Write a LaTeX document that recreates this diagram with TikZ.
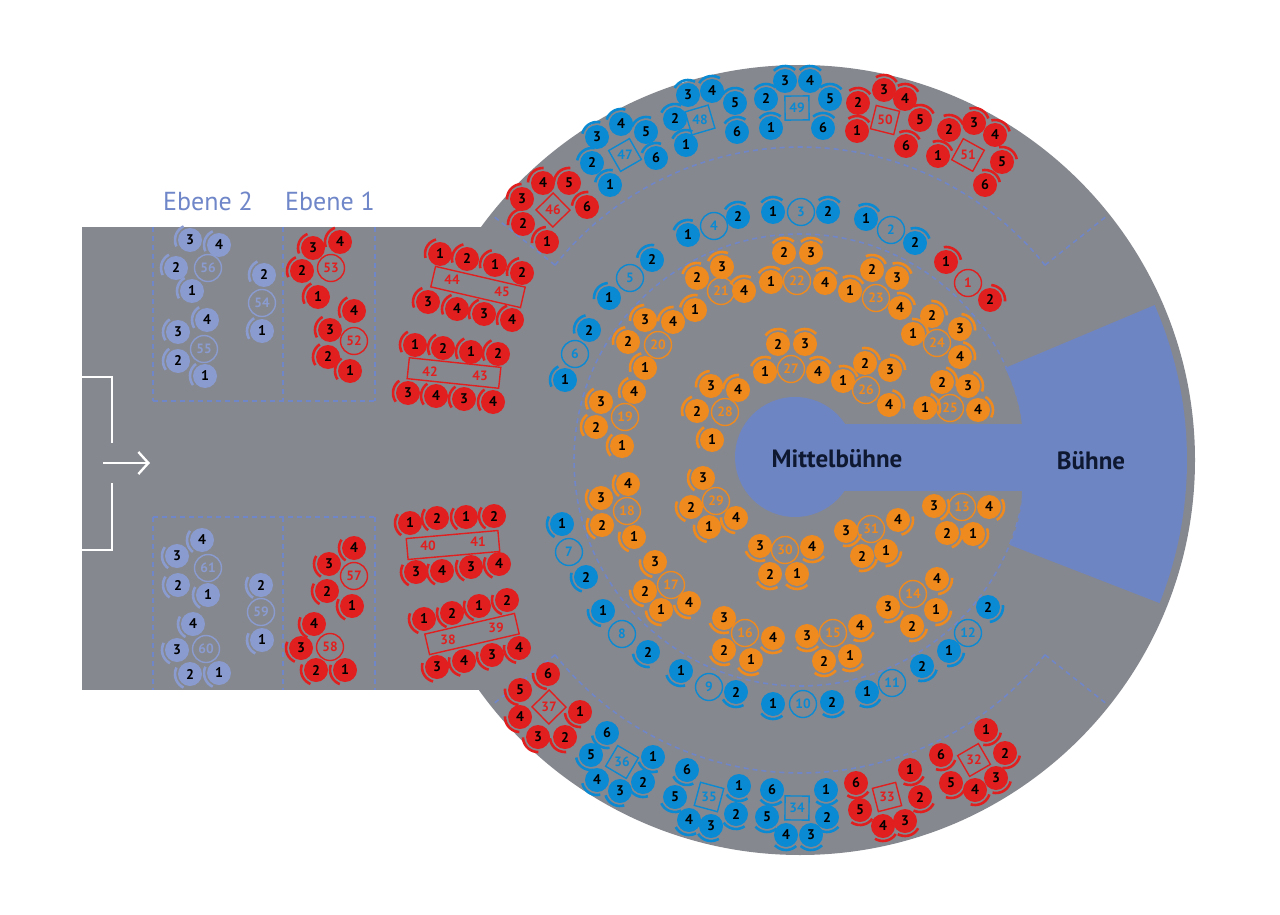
\documentclass[tikz,border=0pt]{standalone}
\usepackage{fontspec}
\setmainfont{PT Sans}
\usetikzlibrary{arrows.meta}
\definecolor{bg}{HTML}{86888F}
\definecolor{cb}{HTML}{0A8AD2}
\definecolor{cr}{HTML}{E21F1F}
\definecolor{co}{HTML}{EF8A1E}
\definecolor{cl}{HTML}{8A9BD0}
\definecolor{stage}{HTML}{6E85C3}
\definecolor{dashc}{HTML}{6F86C8}
\definecolor{ink}{HTML}{0E1830}
\tikzset{
 seatnum/.style={font=\bfseries\fontsize{14}{14}\selectfont,text=black,inner sep=0},
 tabnum/.style={font=\bfseries\fontsize{13.5}{13.5}\selectfont,inner sep=0},
 dl/.style={draw=dashc,line width=1.6,dash pattern=on 5pt off 4pt},
}
\newcommand\st[4]{%
 \pgfmathsetmacro\ang{atan2(#2-460,#1-800)}%
 \draw[#4,line width=2.6] plot[domain=\ang-45:\ang+45,samples=10,smooth] ({#1+15*cos(\x)},{#2+15*sin(\x)});
 \fill[#4] (#1,#2) circle (12);
 \node[seatnum] at (#1,#2) {#3};}
\newcommand\tb[4]{\draw[#4,line width=1.4] (#1,#2) circle (13.5);
 \node[tabnum,text=#4] at (#1,#2) {#3};}
\newcommand\sq[4]{\pgfmathsetmacro\ang{atan2(#2-460,#1-800)}%
 \node[draw=#4,line width=1.4,minimum size=24,rotate=-\ang,inner sep=0] at (#1,#2) {};
 \node[tabnum,text=#4] at (#1,#2) {#3};}
\begin{document}
\begin{tikzpicture}[x=1pt,y=-1pt]
\useasboundingbox (0,0) rectangle (1280,915);
\fill[white] (0,0) rectangle (1280,915);
% floor
\fill[bg] (800,460) circle (395);
\fill[bg] (82,227) rectangle (520,690);
% dashed lines
\draw[dl] (800,460) circle (226);
\draw[dl] plot[domain=-141.5:-38.5,samples=60] ({800+313*cos(\x)},{460+313*sin(\x)});
\draw[dl] plot[domain=38.5:141.5,samples=60] ({800+313*cos(\x)},{460+313*sin(\x)});
\foreach \a in {-141.5,-38.5,38.5,141.5}
  \draw[dl] ({800+313*cos(\a)},{460+313*sin(\a)}) -- ({800+392*cos(\a)},{460+392*sin(\a)});
\foreach \xx in {153,283,375} {\draw[dl] (\xx,227) -- (\xx,401); \draw[dl] (\xx,517) -- (\xx,690);}
\draw[dl] (153,401) -- (375,401); \draw[dl] (153,517) -- (375,517);
% stage
\fill[stage] (1005,368) -- plot[domain=-23.6:21.7,samples=40] ({800+387*cos(\x)},{460+387*sin(\x)}) -- (1010,545) .. controls (1018,525) and (1022,510) .. (1022,492) -- (1022,425) .. controls (1020,405) and (1014,385) .. (1005,368) -- cycle;
\fill[stage] (795,457) circle (60);
\fill[stage] (795,424) rectangle (1022,491);
\node[font=\bfseries\fontsize{25}{25}\selectfont,text=ink] (mb) at (837,459) {Mittelbühne};
\node[font=\bfseries\fontsize{25}{25}\selectfont,text=ink] (bu) at (1091,461) {Bühne};
% door
\draw[white,line width=2] (82,377) -- (112,377) -- (112,443);
\draw[white,line width=2] (112,483) -- (112,550) -- (82,550);
\coordinate (a1) at (103,463); \coordinate (a2) at (150,463);
\draw[white,line width=2.4,-{Straight Barb[length=10pt,width=22pt]}] (a1) -- (a2);
\node[font=\fontsize{26}{26}\selectfont,text=dashc] (e2) at (208,201) {Ebene 2};
\node[font=\fontsize{26}{26}\selectfont,text=dashc] (e1) at (330,201) {Ebene 1};
% outer top
\sq{625}{155}{47}{cb} \st{597}{137}{3}{cb}\st{621}{124}{4}{cb}\st{646}{132}{5}{cb}\st{656}{158}{6}{cb}\st{610}{185}{1}{cb}\st{592}{163}{2}{cb}
\sq{700}{120}{48}{cb} \st{688}{95}{3}{cb}\st{712}{91}{4}{cb}\st{735}{103}{5}{cb}\st{737}{132}{6}{cb}\st{686}{145}{1}{cb}\st{675}{119}{2}{cb}
\sq{797}{108}{49}{cb} \st{785}{81}{3}{cb}\st{810}{81}{4}{cb}\st{830}{99}{5}{cb}\st{823}{128}{6}{cb}\st{771}{128}{1}{cb}\st{766}{99}{2}{cb}
\sq{885}{120}{50}{cr} \st{858}{103}{2}{cr}\st{884}{90}{3}{cr}\st{905}{99}{4}{cr}\st{920}{120}{5}{cr}\st{906}{146}{6}{cr}\st{857}{131}{1}{cr}
\sq{968}{155}{51}{cr} \st{949}{130}{2}{cr}\st{974}{123}{3}{cr}\st{995}{135}{4}{cr}\st{1002}{162}{5}{cr}\st{985}{185}{6}{cr}\st{938}{156}{1}{cr}
\sq{553}{210}{46}{cr} \st{543}{183}{4}{cr}\st{569}{183}{5}{cr}\st{587}{207}{6}{cr}\st{547}{242}{1}{cr}\st{523}{224}{2}{cr}\st{522}{199}{3}{cr}
% outer bottom
\sq{549}{707}{37}{cr} \st{548}{674}{6}{cr}\st{520}{690}{5}{cr}\st{520}{717}{4}{cr}\st{538}{737}{3}{cr}\st{565}{737}{2}{cr}\st{580}{712}{1}{cr}
\sq{622}{762}{36}{cb} \st{607}{733}{6}{cb}\st{653}{757}{1}{cb}\st{643}{782}{2}{cb}\st{620}{791}{3}{cb}\st{597}{780}{4}{cb}\st{591}{755}{5}{cb}
\sq{709}{797}{35}{cb} \st{687}{770}{6}{cb}\st{739}{786}{1}{cb}\st{736}{814}{2}{cb}\st{711}{826}{3}{cb}\st{689}{820}{4}{cb}\st{675}{797}{5}{cb}
\sq{797}{808}{34}{cb} \st{772}{790}{6}{cb}\st{826}{790}{1}{cb}\st{827}{817}{2}{cb}\st{811}{835}{3}{cb}\st{786}{835}{4}{cb}\st{767}{817}{5}{cb}
\sq{887}{797}{33}{cr} \st{856}{783}{6}{cr}\st{910}{770}{1}{cr}\st{920}{797}{2}{cr}\st{905}{821}{3}{cr}\st{883}{826}{4}{cr}\st{860}{810}{5}{cr}
\sq{974}{760}{32}{cr} \st{986}{730}{1}{cr}\st{1005}{753}{2}{cr}\st{996}{778}{3}{cr}\st{975}{790}{4}{cr}\st{951}{783}{5}{cr}\st{941}{755}{6}{cr}
% long tables
\node[draw=cr,line width=1.4,minimum width=92,minimum height=21,rotate=-13] (t44) at (478,287) {};
\node[tabnum,text=cr] at (452,280) {44}; \node[tabnum,text=cr] at (502,292) {45};
\st{440}{254}{1}{cr}\st{467}{259}{2}{cr}\st{495}{265}{1}{cr}\st{522}{273}{2}{cr}
\st{428}{302}{3}{cr}\st{457}{309}{4}{cr}\st{484}{314}{3}{cr}\st{512}{320}{4}{cr}
\node[draw=cr,line width=1.4,minimum width=92,minimum height=21,rotate=-6] (t42) at (454,373) {};
\node[tabnum,text=cr] at (430,372) {42}; \node[tabnum,text=cr] at (480,376) {43};
\st{415}{345}{1}{cr}\st{443}{348}{2}{cr}\st{471}{352}{1}{cr}\st{498}{354}{2}{cr}
\st{408}{393}{3}{cr}\st{436}{396}{4}{cr}\st{464}{399}{3}{cr}\st{493}{402}{4}{cr}
\node[draw=cr,line width=1.4,minimum width=92,minimum height=21,rotate=5] (t40) at (453,545) {};
\node[tabnum,text=cr] at (428,546) {40}; \node[tabnum,text=cr] at (478,542) {41};
\st{410}{523}{1}{cr}\st{437}{518}{2}{cr}\st{466}{517}{1}{cr}\st{494}{516}{2}{cr}
\st{416}{572}{3}{cr}\st{442}{571}{4}{cr}\st{471}{567}{3}{cr}\st{499}{564}{4}{cr}
\node[draw=cr,line width=1.4,minimum width=92,minimum height=21,rotate=13] (t38) at (472,634) {};
\node[tabnum,text=cr] at (448,640) {38}; \node[tabnum,text=cr] at (496,628) {39};
\st{424}{619}{1}{cr}\st{452}{613}{2}{cr}\st{479}{606}{1}{cr}\st{507}{600}{2}{cr}
\st{437}{667}{3}{cr}\st{464}{661}{4}{cr}\st{492}{655}{3}{cr}\st{519}{648}{4}{cr}
% left areas
\tb{208}{268}{56}{cl} \st{190}{240}{3}{cl}\st{219}{245}{4}{cl}\st{176}{268}{2}{cl}\st{192}{291}{1}{cl}
\tb{262}{303}{54}{cl} \st{264}{275}{2}{cl}\st{262}{331}{1}{cl}
\tb{204}{349}{55}{cl} \st{207}{320}{4}{cl}\st{178}{332}{3}{cl}\st{178}{361}{2}{cl}\st{205}{376}{1}{cl}
\tb{331}{268}{53}{cr} \st{313}{248}{3}{cr}\st{340}{242}{4}{cr}\st{302}{271}{2}{cr}\st{318}{297}{1}{cr}
\tb{354}{341}{52}{cr} \st{354}{311}{4}{cr}\st{330}{330}{3}{cr}\st{328}{357}{2}{cr}\st{350}{371}{1}{cr}
\tb{208}{568}{61}{cl} \st{202}{540}{4}{cl}\st{177}{556}{3}{cl}\st{178}{585}{2}{cl}\st{208}{595}{1}{cl}
\tb{261}{612}{59}{cl} \st{261}{585}{2}{cl}\st{262}{640}{1}{cl}
\tb{206}{649}{60}{cl} \st{193}{624}{4}{cl}\st{177}{650}{3}{cl}\st{190}{674}{2}{cl}\st{219}{673}{1}{cl}
\tb{354}{576}{57}{cr} \st{354}{548}{4}{cr}\st{329}{564}{3}{cr}\st{327}{591}{2}{cr}\st{352}{606}{1}{cr}
\tb{330}{647}{58}{cr} \st{314}{624}{4}{cr}\st{301}{648}{3}{cr}\st{316}{670}{2}{cr}\st{345}{670}{1}{cr}
% middle ring
\tb{968}{283}{1}{cr} \st{946}{262}{1}{cr}\st{990}{300}{2}{cr}
\tb{891}{230}{2}{cb} \st{866}{219}{1}{cb}\st{915}{243}{2}{cb}
\tb{801}{212}{3}{cb} \st{773}{212}{1}{cb}\st{828}{212}{2}{cb}
\tb{714}{226}{4}{cb} \st{688}{235}{1}{cb}\st{738}{217}{2}{cb}
\tb{630}{278}{5}{cb} \st{609}{298}{1}{cb}\st{652}{260}{2}{cb}
\tb{575}{354}{6}{cb} \st{565}{380}{1}{cb}\st{589}{330}{2}{cb}
\tb{569}{552}{7}{cb} \st{562}{524}{1}{cb}\st{586}{577}{2}{cb}
\tb{622}{634}{8}{cb} \st{603}{611}{1}{cb}\st{648}{652}{2}{cb}
\tb{709}{687}{9}{cb} \st{681}{671}{1}{cb}\st{736}{692}{2}{cb}
\tb{803}{704}{10}{cb} \st{773}{704}{1}{cb}\st{832}{702}{2}{cb}
\tb{892}{683}{11}{cb} \st{867}{692}{1}{cb}\st{922}{666}{2}{cb}
\tb{968}{633}{12}{cb} \st{949}{651}{1}{cb}\st{988}{607}{2}{cb}
% orange outer
\tb{962}{507}{13}{co} \st{934}{506}{3}{co}\st{989}{507}{4}{co}\st{947}{533}{2}{co}\st{973}{534}{1}{co}
\tb{913}{594}{14}{co} \st{937}{579}{4}{co}\st{888}{607}{3}{co}\st{912}{626}{2}{co}\st{936}{610}{1}{co}
\tb{833}{633}{15}{co} \st{807}{636}{3}{co}\st{860}{626}{4}{co}\st{824}{661}{2}{co}\st{850}{656}{1}{co}
\tb{745}{633}{16}{co} \st{724}{618}{3}{co}\st{773}{638}{4}{co}\st{724}{650}{2}{co}\st{751}{660}{1}{co}
\tb{671}{585}{17}{co} \st{655}{562}{3}{co}\st{689}{603}{4}{co}\st{645}{591}{2}{co}\st{661}{610}{1}{co}
\tb{627}{511}{18}{co} \st{628}{484}{4}{co}\st{601}{498}{3}{co}\st{602}{525}{2}{co}\st{634}{537}{1}{co}
\tb{625}{417}{19}{co} \st{634}{392}{4}{co}\st{601}{402}{3}{co}\st{596}{427}{2}{co}\st{622}{446}{1}{co}
\tb{658}{345}{20}{co} \st{645}{320}{3}{co}\st{673}{322}{4}{co}\st{628}{342}{2}{co}\st{645}{368}{1}{co}
\tb{721}{291}{21}{co} \st{722}{267}{3}{co}\st{744}{291}{4}{co}\st{697}{278}{2}{co}\st{695}{310}{1}{co}
\tb{797}{281}{22}{co} \st{784}{253}{2}{co}\st{811}{253}{3}{co}\st{771}{282}{1}{co}\st{825}{283}{4}{co}
\tb{876}{298}{23}{co} \st{872}{270}{2}{co}\st{897}{278}{3}{co}\st{850}{291}{1}{co}\st{900}{308}{4}{co}
\tb{937}{343}{24}{co} \st{932}{316}{2}{co}\st{960}{329}{3}{co}\st{913}{334}{1}{co}\st{960}{357}{4}{co}
\tb{950}{408}{25}{co} \st{942}{382}{2}{co}\st{968}{386}{3}{co}\st{925}{408}{1}{co}\st{978}{410}{4}{co}
% orange inner
\tb{866}{390}{26}{co} \st{865}{363}{2}{co}\st{890}{370}{3}{co}\st{843}{381}{1}{co}\st{889}{405}{4}{co}
\tb{791}{369}{27}{co} \st{778}{344}{2}{co}\st{805}{344}{3}{co}\st{765}{372}{1}{co}\st{818}{372}{4}{co}
\tb{725}{412}{28}{co} \st{711}{386}{3}{co}\st{738}{390}{4}{co}\st{697}{411}{2}{co}\st{712}{440}{1}{co}
\tb{716}{501}{29}{co} \st{703}{478}{3}{co}\st{691}{507}{2}{co}\st{709}{527}{1}{co}\st{736}{518}{4}{co}
\tb{785}{550}{30}{co} \st{760}{546}{3}{co}\st{812}{547}{4}{co}\st{770}{574}{2}{co}\st{797}{574}{1}{co}
\tb{871}{529}{31}{co} \st{846}{531}{3}{co}\st{898}{520}{4}{co}\st{862}{556}{2}{co}\st{886}{551}{1}{co}
\end{tikzpicture}
\end{document}
